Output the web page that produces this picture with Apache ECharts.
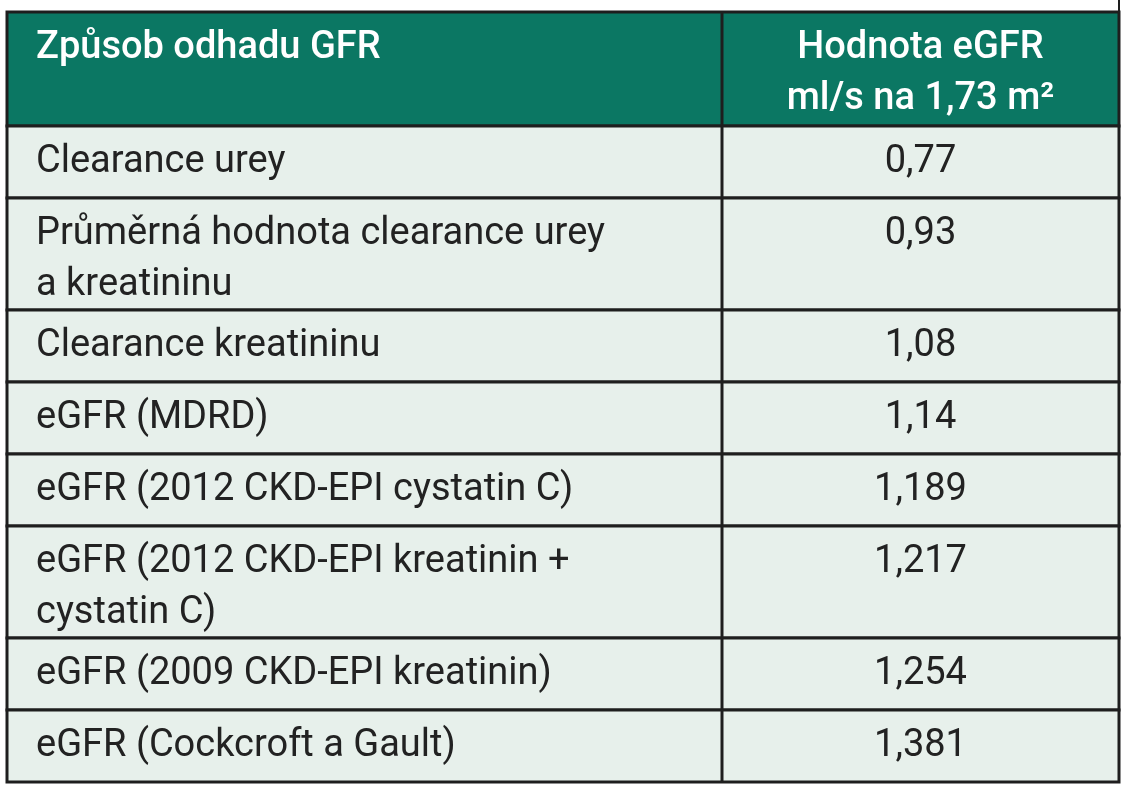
<!DOCTYPE html>
<html><head><meta charset="utf-8">
<script src="https://cdn.jsdelivr.net/npm/echarts@6/dist/echarts.min.js"></script>
<style>html,body{margin:0;padding:0;background:#fff}#c{width:1146px;height:800px}</style>
</head><body><div id="c"></div>
<script>
const headers = ["Způsob odhadu GFR", "Hodnota eGFR\nml/s na 1,73 m²"];
const methods = [
  "Clearance urey",
  "Průměrná hodnota clearance urey\na kreatininu",
  "Clearance kreatininu",
  "eGFR (MDRD)",
  "eGFR (2012 CKD-EPI cystatin C)",
  "eGFR (2012 CKD-EPI kreatinin +\ncystatin C)",
  "eGFR (2009 CKD-EPI kreatinin)",
  "eGFR (Cockcroft a Gault)"
];
const values = ["0,77", "0,93", "1,08", "1,14", "1,189", "1,217", "1,254", "1,381"];

const L = 7, R = 1119, MID = 722, TOP = 12;
const font = 'Roboto, "Noto Sans", sans-serif';
const els = [];
let y = TOP;
const rowH = s => s.split('\n').length > 1 ? 112 : 72;
function addRow(a, b, header) {
  const h = header ? 114 : rowH(a);
  els.push({type:'rect', shape:{x:L, y:y, width:R-L, height:h},
    style:{fill: header ? '#0b7763' : '#e7f0eb', stroke:'#1e1e1e', lineWidth:3}});
  els.push({type:'line', shape:{x1:MID, y1:y, x2:MID, y2:y+h}, style:{stroke:'#1e1e1e', lineWidth:3}});
  const st = {fill: header ? '#fff' : '#222', font: (header ? '500 ' : '') + '38px ' + font, lineHeight:51, verticalAlign:'top'};
  els.push({type:'text', x:36, y:y+11, style:Object.assign({text:a, align:'left'}, st)});
  els.push({type:'text', x:(MID+R)/2, y:y+11, style:Object.assign({text:b, align:'center'}, st)});
  y += h;
}
addRow(headers[0], headers[1], true);
methods.forEach((m, i) => addRow(m, values[i], false));
els.push({type:'line', shape:{x1:R, y1:0, x2:R, y2:TOP}, style:{stroke:'#1e1e1e', lineWidth:2}});

const chart = echarts.init(document.getElementById('c'));
chart.setOption({animation:false, graphic:{elements:els}});
</script></body></html>
